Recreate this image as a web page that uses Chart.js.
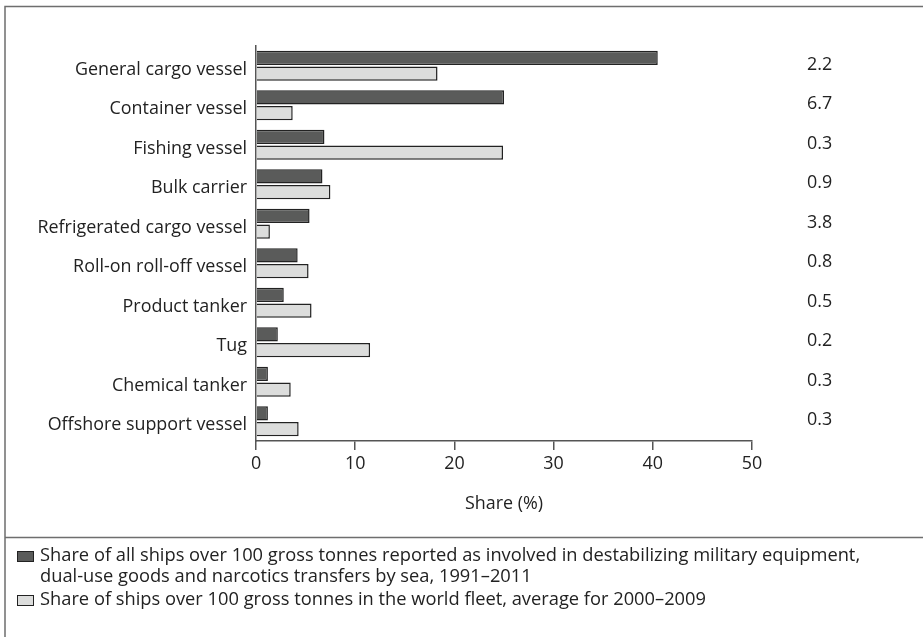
<!DOCTYPE html>
<html>
<head>
<meta charset="utf-8">
<script src="https://cdn.jsdelivr.net/npm/chart.js@4.4.1/dist/chart.umd.min.js"></script>
<style>
  html, body { margin: 0; padding: 0; background: #fff; }
</style>
</head>
<body>
<canvas id="chart" width="923" height="637"></canvas>
<script>
(function() {

  "use strict";

  var vesselTypes = ["General cargo vessel", "Container vessel", "Fishing vessel", "Bulk carrier",
    "Refrigerated cargo vessel", "Roll-on roll-off vessel", "Product tanker", "Tug",
    "Chemical tanker", "Offshore support vessel"];
  var transferShare = [40.5, 25.0, 6.9, 6.7, 5.4, 4.2, 2.8, 2.2, 1.2, 1.2];
  var fleetShare = [18.3, 3.7, 24.9, 7.5, 1.4, 5.3, 5.6, 11.5, 3.5, 4.3];
  var ratioLabels = ["2.2", "6.7", "0.3", "0.9", "3.8", "0.8", "0.5", "0.2", "0.3", "0.3"];
  var xTicks = [0, 10, 20, 30, 40, 50];
  var transferLabel = ["Share of all ships over 100 gross tonnes reported as involved in destabilizing military equipment,",
    "dual-use goods and narcotics transfers by sea, 1991\u20132011"];
  var fleetLabel = ["Share of ships over 100 gross tonnes in the world fleet, average for 2000\u20132009"];

  var FONT = "'Open Sans', 'Liberation Sans', sans-serif";
  var SIZE = 17.9;
  var TEXT = "#222";
  var DARK = "#5a5b5a";
  var LIGHT = "#dcdddc";

  // frame, ratio column and the legend under the divider
  var extras = {
    id: "extras",
    afterDraw: function(chart) {
      var ctx = chart.ctx;
      var yScale = chart.scales.y;
      ctx.save();
      ctx.strokeStyle = "#6e6e6e";
      ctx.lineWidth = 1.5;
      ctx.beginPath();
      ctx.moveTo(923, 6.5);
      ctx.lineTo(5, 6.5);
      ctx.lineTo(5, 637);
      ctx.moveTo(5, 537.5);
      ctx.lineTo(923, 537.5);
      ctx.stroke();

      ctx.font = SIZE + "px " + FONT;
      ctx.fillStyle = TEXT;
      ctx.textBaseline = "middle";
      ctx.textAlign = "left";
      ratioLabels.forEach(function(t, i) {
        ctx.fillText(t, 807, yScale.getPixelForValue(i) - 1);
      });

      ctx.font = "18.3px " + FONT;
      var items = [
        { lines: transferLabel, color: DARK },
        { lines: fleetLabel, color: LIGHT }
      ];
      var y = 556;
      items.forEach(function(item) {
        ctx.fillStyle = item.color;
        ctx.fillRect(17, y - 5, 17, 11);
        ctx.strokeStyle = "#222";
        ctx.lineWidth = 1;
        ctx.strokeRect(17.5, y - 4.5, 16, 10);
        ctx.fillStyle = TEXT;
        item.lines.forEach(function(line) {
          ctx.fillText(line, 40, y);
          y += 21;
        });
        y += 2;
      });
      ctx.restore();
    }
  };

  new Chart(document.getElementById("chart"), {
    type: "bar",
    data: {
      labels: vesselTypes,
      datasets: [
        {
          label: transferLabel.join(" "),
          data: transferShare,
          backgroundColor: DARK,
          borderColor: "#222",
          borderWidth: 1.5,
          barPercentage: 0.91,
          categoryPercentage: 0.8
        },
        {
          label: fleetLabel[0],
          data: fleetShare,
          backgroundColor: LIGHT,
          borderColor: "#222",
          borderWidth: 1.5,
          barPercentage: 0.91,
          categoryPercentage: 0.8
        }
      ]
    },
    options: {
      indexAxis: "y",
      responsive: false,
      animation: false,
      layout: { padding: { left: 0, top: 46, right: 171, bottom: 122 } },
      plugins: {
        legend: { display: false },
        tooltip: { enabled: false }
      },
      scales: {
        x: {
          min: 0,
          max: 50,
          afterBuildTicks: function(s) {
            s.ticks = xTicks.map(function(v) { return { value: v }; });
          },
          afterFit: function(s) { s.height = 74; },
          grid: { display: true, drawOnChartArea: false, drawTicks: true, tickLength: 9, color: "#555", lineWidth: 1.5 },
          border: { display: true, color: "#555", width: 1.5 },
          ticks: { padding: 3, color: TEXT, font: { family: FONT, size: SIZE } },
          title: {
            display: true,
            text: "Share (%)",
            color: TEXT,
            padding: { top: 0, bottom: 0 },
            font: { family: FONT, size: SIZE }
          }
        },
        y: {
          afterFit: function(s) { s.width = 256; },
          grid: { display: false, drawTicks: false },
          border: { display: true, color: "#555", width: 1.5 },
          ticks: { padding: 9, labelOffset: 4, color: TEXT, font: { family: FONT, size: SIZE } }
        }
      }
    },
    plugins: [extras]
  });

})();
</script>
</body>
</html>
